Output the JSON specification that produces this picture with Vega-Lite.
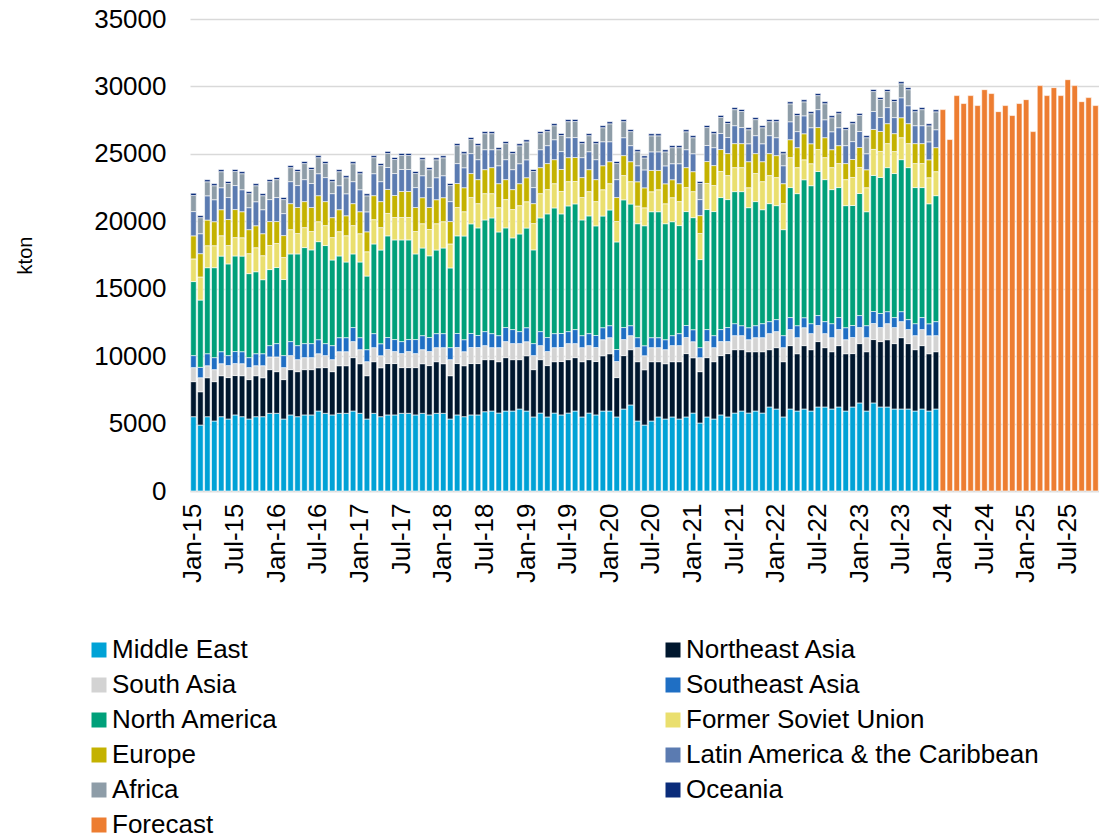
{
"$schema":"https://vega.github.io/schema/vega-lite/v6.json",
"width":909,"height":472,
"autosize":{"type":"none"},
"padding":{"left":190,"top":19,"right":0,"bottom":348},
"background":"white",
"config":{"font":"Liberation Sans","view":{"stroke":null},"axis":{"labelColor":"#000000","titleColor":"#000000"},"legend":{"labelColor":"#000000"}},
"data":{"values":[
{"m":"2015-01","ME":5510,"NEA":2600,"SA":1040,"SEA":890,"NA":5490,"FSU":1680,"EU":1710,"LA":1800,"AF":1190,"OC":170},
{"m":"2015-02","ME":4890,"NEA":2470,"SA":1040,"SEA":770,"NA":4990,"FSU":1710,"EU":1730,"LA":1480,"AF":1190,"OC":150},
{"m":"2015-03","ME":5510,"NEA":2890,"SA":890,"SEA":890,"NA":6380,"FSU":1630,"EU":1900,"LA":1800,"AF":1040,"OC":150},
{"m":"2015-04","ME":5190,"NEA":2920,"SA":890,"SEA":890,"NA":6670,"FSU":1630,"EU":1780,"LA":1630,"AF":1040,"OC":150},
{"m":"2015-05","ME":5510,"NEA":3040,"SA":890,"SEA":890,"NA":7090,"FSU":1510,"EU":1930,"LA":1630,"AF":1190,"OC":150},
{"m":"2015-06","ME":5340,"NEA":3070,"SA":890,"SEA":740,"NA":6800,"FSU":1360,"EU":1930,"LA":1630,"AF":1040,"OC":150},
{"m":"2015-07","ME":5640,"NEA":2920,"SA":890,"SEA":890,"NA":7090,"FSU":1360,"EU":2080,"LA":1780,"AF":1040,"OC":150},
{"m":"2015-08","ME":5510,"NEA":3040,"SA":890,"SEA":890,"NA":7090,"FSU":1360,"EU":1930,"LA":1630,"AF":1190,"OC":150},
{"m":"2015-09","ME":5340,"NEA":2920,"SA":890,"SEA":740,"NA":6230,"FSU":1480,"EU":1780,"LA":1630,"AF":1040,"OC":150},
{"m":"2015-10","ME":5510,"NEA":3040,"SA":740,"SEA":890,"NA":6080,"FSU":1780,"EU":1630,"LA":1780,"AF":1190,"OC":150},
{"m":"2015-11","ME":5510,"NEA":2890,"SA":890,"SEA":890,"NA":5490,"FSU":1780,"EU":1630,"LA":1780,"AF":1040,"OC":150},
{"m":"2015-12","ME":5760,"NEA":3240,"SA":940,"SEA":840,"NA":5640,"FSU":1780,"EU":1780,"LA":1630,"AF":1330,"OC":150},
{"m":"2016-01","ME":5760,"NEA":3090,"SA":1090,"SEA":990,"NA":5640,"FSU":1780,"EU":1630,"LA":1780,"AF":1330,"OC":150},
{"m":"2016-02","ME":5340,"NEA":2920,"SA":890,"SEA":890,"NA":5640,"FSU":1630,"EU":1630,"LA":1630,"AF":1040,"OC":150},
{"m":"2016-03","ME":5640,"NEA":3360,"SA":1040,"SEA":1040,"NA":6500,"FSU":1800,"EU":1930,"LA":1630,"AF":1040,"OC":150},
{"m":"2016-04","ME":5510,"NEA":3340,"SA":890,"SEA":1040,"NA":6800,"FSU":1510,"EU":1930,"LA":1630,"AF":1040,"OC":150},
{"m":"2016-05","ME":5640,"NEA":3360,"SA":890,"SEA":1040,"NA":7120,"FSU":1480,"EU":1930,"LA":1630,"AF":1190,"OC":150},
{"m":"2016-06","ME":5640,"NEA":3360,"SA":890,"SEA":1040,"NA":6950,"FSU":1360,"EU":1780,"LA":1780,"AF":1040,"OC":150},
{"m":"2016-07","ME":5930,"NEA":3210,"SA":1040,"SEA":1040,"NA":7270,"FSU":1480,"EU":1930,"LA":1630,"AF":1190,"OC":150},
{"m":"2016-08","ME":5760,"NEA":3390,"SA":890,"SEA":890,"NA":7270,"FSU":1480,"EU":1780,"LA":1780,"AF":1040,"OC":150},
{"m":"2016-09","ME":5640,"NEA":3210,"SA":890,"SEA":1040,"NA":6350,"FSU":1660,"EU":1480,"LA":1780,"AF":890,"OC":150},
{"m":"2016-10","ME":5760,"NEA":3530,"SA":1040,"SEA":1040,"NA":6060,"FSU":1800,"EU":1630,"LA":1780,"AF":1040,"OC":150},
{"m":"2016-11","ME":5760,"NEA":3530,"SA":1040,"SEA":1040,"NA":5610,"FSU":1950,"EU":1480,"LA":1630,"AF":1190,"OC":150},
{"m":"2016-12","ME":5930,"NEA":3960,"SA":1190,"SEA":1040,"NA":5460,"FSU":2100,"EU":1630,"LA":1630,"AF":1330,"OC":150},
{"m":"2017-01","ME":5760,"NEA":3680,"SA":1040,"SEA":890,"NA":5610,"FSU":2100,"EU":1630,"LA":1630,"AF":1190,"OC":150},
{"m":"2017-02","ME":5340,"NEA":3210,"SA":1040,"SEA":890,"NA":5460,"FSU":1800,"EU":1480,"LA":1480,"AF":1190,"OC":150},
{"m":"2017-03","ME":5760,"NEA":3830,"SA":1040,"SEA":1040,"NA":6650,"FSU":1800,"EU":1780,"LA":1630,"AF":1190,"OC":150},
{"m":"2017-04","ME":5510,"NEA":3630,"SA":890,"SEA":890,"NA":6950,"FSU":1660,"EU":1930,"LA":1480,"AF":1190,"OC":150},
{"m":"2017-05","ME":5640,"NEA":3810,"SA":1040,"SEA":890,"NA":7540,"FSU":1660,"EU":1780,"LA":1630,"AF":1040,"OC":150},
{"m":"2017-06","ME":5640,"NEA":3810,"SA":890,"SEA":890,"NA":7390,"FSU":1660,"EU":1630,"LA":1630,"AF":1040,"OC":150},
{"m":"2017-07","ME":5760,"NEA":3390,"SA":1040,"SEA":890,"NA":7540,"FSU":1660,"EU":1930,"LA":1630,"AF":1040,"OC":150},
{"m":"2017-08","ME":5760,"NEA":3390,"SA":1190,"SEA":890,"NA":7390,"FSU":1660,"EU":1930,"LA":1630,"AF":1040,"OC":150},
{"m":"2017-09","ME":5640,"NEA":3510,"SA":1040,"SEA":1040,"NA":6350,"FSU":1660,"EU":1780,"LA":1480,"AF":1040,"OC":150},
{"m":"2017-10","ME":5760,"NEA":3680,"SA":1040,"SEA":1040,"NA":6500,"FSU":1800,"EU":1930,"LA":1630,"AF":1190,"OC":150},
{"m":"2017-11","ME":5640,"NEA":3660,"SA":1040,"SEA":1040,"NA":6060,"FSU":1950,"EU":1630,"LA":1480,"AF":1330,"OC":150},
{"m":"2017-12","ME":5760,"NEA":3830,"SA":1040,"SEA":1040,"NA":6200,"FSU":1950,"EU":1780,"LA":1630,"AF":1330,"OC":150},
{"m":"2018-01","ME":5760,"NEA":3680,"SA":1190,"SEA":1040,"NA":6350,"FSU":1950,"EU":1780,"LA":1630,"AF":1330,"OC":150},
{"m":"2018-02","ME":5340,"NEA":3210,"SA":1190,"SEA":890,"NA":5910,"FSU":1780,"EU":1660,"LA":1480,"AF":1190,"OC":150},
{"m":"2018-03","ME":5640,"NEA":3810,"SA":1190,"SEA":1040,"NA":7240,"FSU":2100,"EU":1780,"LA":1480,"AF":1330,"OC":150},
{"m":"2018-04","ME":5510,"NEA":3780,"SA":1040,"SEA":890,"NA":7690,"FSU":1800,"EU":1780,"LA":1480,"AF":1040,"OC":150},
{"m":"2018-05","ME":5640,"NEA":3810,"SA":1190,"SEA":1040,"NA":8130,"FSU":1950,"EU":1780,"LA":1480,"AF":1040,"OC":150},
{"m":"2018-06","ME":5640,"NEA":3810,"SA":1190,"SEA":890,"NA":7980,"FSU":1800,"EU":1780,"LA":1480,"AF":1040,"OC":150},
{"m":"2018-07","ME":5880,"NEA":3860,"SA":1040,"SEA":1040,"NA":8280,"FSU":1950,"EU":1780,"LA":1480,"AF":1190,"OC":150},
{"m":"2018-08","ME":5930,"NEA":3810,"SA":890,"SEA":1040,"NA":8580,"FSU":1800,"EU":1930,"LA":1330,"AF":1190,"OC":150},
{"m":"2018-09","ME":5780,"NEA":3810,"SA":1040,"SEA":890,"NA":7690,"FSU":1800,"EU":1780,"LA":1330,"AF":1190,"OC":150},
{"m":"2018-10","ME":5930,"NEA":3960,"SA":1190,"SEA":1040,"NA":7390,"FSU":2100,"EU":1480,"LA":1480,"AF":1190,"OC":150},
{"m":"2018-11","ME":5930,"NEA":3810,"SA":1190,"SEA":1040,"NA":6800,"FSU":2100,"EU":1480,"LA":1480,"AF":1190,"OC":150},
{"m":"2018-12","ME":6080,"NEA":3660,"SA":1190,"SEA":890,"NA":7240,"FSU":2100,"EU":1630,"LA":1480,"AF":1330,"OC":150},
{"m":"2019-01","ME":5930,"NEA":4100,"SA":1040,"SEA":1040,"NA":7390,"FSU":1950,"EU":1780,"LA":1330,"AF":1330,"OC":150},
{"m":"2019-02","ME":5490,"NEA":3510,"SA":1040,"SEA":890,"NA":6950,"FSU":1950,"EU":1480,"LA":1190,"AF":1190,"OC":150},
{"m":"2019-03","ME":5780,"NEA":3960,"SA":1040,"SEA":1040,"NA":8430,"FSU":1800,"EU":1930,"LA":1330,"AF":1190,"OC":150},
{"m":"2019-04","ME":5490,"NEA":3810,"SA":1040,"SEA":1040,"NA":9170,"FSU":1800,"EU":1930,"LA":1330,"AF":1040,"OC":150},
{"m":"2019-05","ME":5780,"NEA":3810,"SA":1040,"SEA":1040,"NA":9320,"FSU":1800,"EU":1780,"LA":1480,"AF":1040,"OC":150},
{"m":"2019-06","ME":5640,"NEA":3960,"SA":1040,"SEA":1040,"NA":8870,"FSU":1660,"EU":1630,"LA":1330,"AF":1190,"OC":150},
{"m":"2019-07","ME":5780,"NEA":3960,"SA":1190,"SEA":890,"NA":9320,"FSU":1800,"EU":1780,"LA":1480,"AF":1190,"OC":150},
{"m":"2019-08","ME":5930,"NEA":3960,"SA":1040,"SEA":1040,"NA":9320,"FSU":1660,"EU":1780,"LA":1480,"AF":1190,"OC":150},
{"m":"2019-09","ME":5490,"NEA":4100,"SA":1040,"SEA":890,"NA":8580,"FSU":1660,"EU":1480,"LA":1480,"AF":1040,"OC":150},
{"m":"2019-10","ME":5780,"NEA":3960,"SA":1040,"SEA":890,"NA":8730,"FSU":1800,"EU":1630,"LA":1330,"AF":1190,"OC":150},
{"m":"2019-11","ME":5640,"NEA":3960,"SA":1040,"SEA":890,"NA":8130,"FSU":1800,"EU":1630,"LA":1480,"AF":1190,"OC":150},
{"m":"2019-12","ME":5930,"NEA":4100,"SA":1190,"SEA":890,"NA":8280,"FSU":1950,"EU":1780,"LA":1780,"AF":1040,"OC":150},
{"m":"2020-01","ME":5930,"NEA":4250,"SA":1190,"SEA":890,"NA":8580,"FSU":1950,"EU":1630,"LA":1480,"AF":1330,"OC":150},
{"m":"2020-02","ME":5490,"NEA":2920,"SA":1190,"SEA":890,"NA":7980,"FSU":1510,"EU":1780,"LA":1330,"AF":1190,"OC":150},
{"m":"2020-03","ME":6080,"NEA":3960,"SA":1190,"SEA":890,"NA":9470,"FSU":1800,"EU":1480,"LA":1330,"AF":1190,"OC":150},
{"m":"2020-04","ME":6380,"NEA":4100,"SA":1040,"SEA":740,"NA":9020,"FSU":1660,"EU":1480,"LA":1190,"AF":1040,"OC":150},
{"m":"2020-05","ME":5190,"NEA":4400,"SA":1040,"SEA":740,"NA":8450,"FSU":1310,"EU":1800,"LA":1190,"AF":1040,"OC":150},
{"m":"2020-06","ME":4890,"NEA":4100,"SA":1040,"SEA":740,"NA":8900,"FSU":1330,"EU":1480,"LA":1330,"AF":890,"OC":150},
{"m":"2020-07","ME":5190,"NEA":4400,"SA":1040,"SEA":740,"NA":9340,"FSU":1480,"EU":1580,"LA":1380,"AF":1190,"OC":150},
{"m":"2020-08","ME":5490,"NEA":4100,"SA":1040,"SEA":740,"NA":9340,"FSU":1630,"EU":1430,"LA":1380,"AF":1190,"OC":150},
{"m":"2020-09","ME":5340,"NEA":4100,"SA":1040,"SEA":740,"NA":8600,"FSU":1480,"EU":1480,"LA":1330,"AF":1040,"OC":150},
{"m":"2020-10","ME":5490,"NEA":4100,"SA":1190,"SEA":740,"NA":8450,"FSU":1780,"EU":1330,"LA":1190,"AF":1190,"OC":150},
{"m":"2020-11","ME":5340,"NEA":4250,"SA":1190,"SEA":890,"NA":8010,"FSU":1780,"EU":1330,"LA":1480,"AF":1190,"OC":150},
{"m":"2020-12","ME":5490,"NEA":4700,"SA":1190,"SEA":890,"NA":8450,"FSU":1780,"EU":1480,"LA":1330,"AF":1330,"OC":150},
{"m":"2021-01","ME":5780,"NEA":4100,"SA":1190,"SEA":890,"NA":8310,"FSU":1930,"EU":1480,"LA":1330,"AF":1190,"OC":150},
{"m":"2021-02","ME":5040,"NEA":3810,"SA":1040,"SEA":740,"NA":6530,"FSU":1930,"EU":1330,"LA":1190,"AF":1190,"OC":150},
{"m":"2021-03","ME":5490,"NEA":4400,"SA":1190,"SEA":890,"NA":8900,"FSU":1930,"EU":1630,"LA":1190,"AF":1330,"OC":150},
{"m":"2021-04","ME":5340,"NEA":4250,"SA":1040,"SEA":890,"NA":9200,"FSU":1930,"EU":1480,"LA":1330,"AF":1040,"OC":150},
{"m":"2021-05","ME":5640,"NEA":4400,"SA":1040,"SEA":890,"NA":9790,"FSU":1930,"EU":1630,"LA":1190,"AF":1190,"OC":150},
{"m":"2021-06","ME":5490,"NEA":4700,"SA":890,"SEA":1040,"NA":9490,"FSU":1780,"EU":1630,"LA":1190,"AF":1040,"OC":150},
{"m":"2021-07","ME":5780,"NEA":4700,"SA":1040,"SEA":890,"NA":9790,"FSU":1780,"EU":1780,"LA":1330,"AF":1190,"OC":150},
{"m":"2021-08","ME":5930,"NEA":4550,"SA":1040,"SEA":740,"NA":9940,"FSU":1780,"EU":1780,"LA":1190,"AF":1190,"OC":150},
{"m":"2021-09","ME":5780,"NEA":4550,"SA":890,"SEA":890,"NA":8900,"FSU":1480,"EU":1930,"LA":1330,"AF":1040,"OC":150},
{"m":"2021-10","ME":5930,"NEA":4400,"SA":1040,"SEA":890,"NA":9200,"FSU":2080,"EU":1480,"LA":1330,"AF":1190,"OC":150},
{"m":"2021-11","ME":5780,"NEA":4550,"SA":1040,"SEA":1040,"NA":8450,"FSU":2080,"EU":1480,"LA":1330,"AF":1190,"OC":150},
{"m":"2021-12","ME":6230,"NEA":4250,"SA":1190,"SEA":890,"NA":8750,"FSU":2080,"EU":1630,"LA":1330,"AF":1040,"OC":150},
{"m":"2022-01","ME":6080,"NEA":4550,"SA":1190,"SEA":890,"NA":8450,"FSU":2080,"EU":1630,"LA":1330,"AF":1190,"OC":150},
{"m":"2022-02","ME":5490,"NEA":4100,"SA":1040,"SEA":890,"NA":7860,"FSU":1930,"EU":1480,"LA":1330,"AF":890,"OC":150},
{"m":"2022-03","ME":6080,"NEA":4700,"SA":1190,"SEA":890,"NA":9640,"FSU":2220,"EU":1330,"LA":1330,"AF":1330,"OC":150},
{"m":"2022-04","ME":5930,"NEA":4250,"SA":1190,"SEA":890,"NA":9790,"FSU":1930,"EU":1480,"LA":1190,"AF":1190,"OC":150},
{"m":"2022-05","ME":6080,"NEA":4700,"SA":1330,"SEA":740,"NA":10230,"FSU":1480,"EU":1930,"LA":1330,"AF":1040,"OC":150},
{"m":"2022-06","ME":5930,"NEA":4550,"SA":1190,"SEA":740,"NA":10230,"FSU":1630,"EU":1480,"LA":1190,"AF":1040,"OC":150},
{"m":"2022-07","ME":6230,"NEA":4850,"SA":1190,"SEA":740,"NA":10680,"FSU":1630,"EU":1630,"LA":1330,"AF":1040,"OC":150},
{"m":"2022-08","ME":6230,"NEA":4400,"SA":1040,"SEA":890,"NA":10530,"FSU":1630,"EU":1480,"LA":1330,"AF":1190,"OC":150},
{"m":"2022-09","ME":6080,"NEA":4250,"SA":1040,"SEA":1040,"NA":9940,"FSU":1630,"EU":1330,"LA":1330,"AF":1040,"OC":150},
{"m":"2022-10","ME":6230,"NEA":4550,"SA":1190,"SEA":890,"NA":9640,"FSU":1780,"EU":1330,"LA":1330,"AF":1040,"OC":150},
{"m":"2022-11","ME":5930,"NEA":4250,"SA":1040,"SEA":890,"NA":9050,"FSU":1930,"EU":1190,"LA":1330,"AF":1190,"OC":150},
{"m":"2022-12","ME":6230,"NEA":3960,"SA":1190,"SEA":890,"NA":8900,"FSU":2080,"EU":1330,"LA":1330,"AF":1330,"OC":150},
{"m":"2023-01","ME":6530,"NEA":4400,"SA":1190,"SEA":890,"NA":9050,"FSU":1930,"EU":1480,"LA":1190,"AF":1190,"OC":150},
{"m":"2023-02","ME":5930,"NEA":4400,"SA":1040,"SEA":890,"NA":8450,"FSU":1780,"EU":1330,"LA":1190,"AF":1190,"OC":150},
{"m":"2023-03","ME":6530,"NEA":4700,"SA":1190,"SEA":890,"NA":10090,"FSU":1930,"EU":1480,"LA":1330,"AF":1480,"OC":150},
{"m":"2023-04","ME":6230,"NEA":4850,"SA":1040,"SEA":1040,"NA":10090,"FSU":1930,"EU":1480,"LA":1040,"AF":1330,"OC":150},
{"m":"2023-05","ME":6230,"NEA":4990,"SA":1190,"SEA":890,"NA":10680,"FSU":1780,"EU":1480,"LA":1190,"AF":1190,"OC":150},
{"m":"2023-06","ME":6080,"NEA":4850,"SA":1190,"SEA":740,"NA":10680,"FSU":1630,"EU":1330,"LA":1190,"AF":1190,"OC":150},
{"m":"2023-07","ME":6080,"NEA":5290,"SA":1190,"SEA":740,"NA":11270,"FSU":1630,"EU":1480,"LA":1480,"AF":1040,"OC":150},
{"m":"2023-08","ME":6080,"NEA":4850,"SA":1040,"SEA":740,"NA":11270,"FSU":1780,"EU":1480,"LA":1330,"AF":1190,"OC":150},
{"m":"2023-09","ME":5930,"NEA":4550,"SA":1040,"SEA":890,"NA":10090,"FSU":1780,"EU":1480,"LA":1330,"AF":1040,"OC":150},
{"m":"2023-10","ME":6080,"NEA":4700,"SA":1190,"SEA":890,"NA":9640,"FSU":1780,"EU":1480,"LA":1330,"AF":1190,"OC":150},
{"m":"2023-11","ME":5930,"NEA":4250,"SA":1330,"SEA":890,"NA":8900,"FSU":1930,"EU":1330,"LA":1330,"AF":1190,"OC":150},
{"m":"2023-12","ME":6080,"NEA":4250,"SA":1190,"SEA":1040,"NA":9340,"FSU":1780,"EU":1780,"LA":1330,"AF":1330,"OC":150},
{"m":"2024-01","FC":28280},{"m":"2024-02","FC":26060},{"m":"2024-03","FC":29320},{"m":"2024-04","FC":28730},
{"m":"2024-05","FC":29320},{"m":"2024-06","FC":28580},{"m":"2024-07","FC":29760},{"m":"2024-08","FC":29470},
{"m":"2024-09","FC":28130},{"m":"2024-10","FC":28580},{"m":"2024-11","FC":27840},{"m":"2024-12","FC":28730},
{"m":"2025-01","FC":29020},{"m":"2025-02","FC":26650},{"m":"2025-03","FC":30060},{"m":"2025-04","FC":29320},
{"m":"2025-05","FC":29910},{"m":"2025-06","FC":29320},{"m":"2025-07","FC":30500},{"m":"2025-08","FC":30060},
{"m":"2025-09","FC":28870},{"m":"2025-10","FC":29170},{"m":"2025-11","FC":28580}
]},
"transform":[
{"fold":["ME","NEA","SA","SEA","NA","FSU","EU","LA","AF","OC","FC"],"as":["region","v"]},
{"filter":"isValid(datum.v)"},
{"lookup":"region","from":{"data":{"values":[
{"region":"ME","o":0,"name":"Middle East"},
{"region":"NEA","o":1,"name":"Northeast Asia"},
{"region":"SA","o":2,"name":"South Asia"},
{"region":"SEA","o":3,"name":"Southeast Asia"},
{"region":"NA","o":4,"name":"North America"},
{"region":"FSU","o":5,"name":"Former Soviet Union"},
{"region":"EU","o":6,"name":"Europe"},
{"region":"LA","o":7,"name":"Latin America & the Caribbean"},
{"region":"AF","o":8,"name":"Africa"},
{"region":"OC","o":9,"name":"Oceania"},
{"region":"FC","o":10,"name":"Forecast"}]},"key":"region","fields":["o","name"]}}
],
"mark":{"type":"bar","stroke":"white","strokeWidth":0.6},
"encoding":{
"x":{"field":"m","type":"ordinal","scale":{"paddingInner":0.2,"paddingOuter":0.1},
"axis":{"title":null,"values":["2015-01","2015-07","2016-01","2016-07","2017-01","2017-07","2018-01","2018-07","2019-01","2019-07","2020-01","2020-07","2021-01","2021-07","2022-01","2022-07","2023-01","2023-07","2024-01","2024-07","2025-01","2025-07"],
"labelExpr":"(slice(datum.value,5,7)=='01' ? 'Jan-' : 'Jul-') + slice(datum.value,2,4)",
"labelAngle":-90,"labelFontSize":26,"labelPadding":12,"ticks":false,"grid":false,"domainColor":"#D9D9D9","domainWidth":1.5,"labelOverlap":false}},
"y":{"field":"v","type":"quantitative","stack":"zero","scale":{"domain":[0,35000],"nice":false},
"axis":{"title":"kton","values":[0,5000,10000,15000,20000,25000,30000,35000],"format":"d","grid":true,"gridColor":"#D9D9D9","gridWidth":1.5,"domain":false,"ticks":false,"labelFontSize":26,"labelPadding":24,"titleFontSize":20,"titleFontWeight":"normal","titleAngle":-90,"titleX":-165,"titleY":236,"titleAlign":"center","titleBaseline":"middle"}},
"order":{"field":"o","type":"quantitative","sort":"ascending"},
"color":{"field":"name","type":"nominal","sort":["Middle East","Northeast Asia","South Asia","Southeast Asia","North America","Former Soviet Union","Europe","Latin America & the Caribbean","Africa","Oceania","Forecast"],
"scale":{"domain":["Middle East","Northeast Asia","South Asia","Southeast Asia","North America","Former Soviet Union","Europe","Latin America & the Caribbean","Africa","Oceania","Forecast"],"range":["#00A2D6","#00172E","#D3D3D3","#1F6FC4","#00A07A","#EADF6E","#C4B200","#5B7BB1","#8E9DA8","#0A2C7A","#ED7D31"]},
"legend":{"title":null,"orient":"none","legendX":-104,"legendY":618,"columns":2,"direction":"horizontal","columnPadding":381,"rowPadding":9,"symbolType":"square","symbolSize":225,"symbolStrokeWidth":0,"labelFontSize":26,"labelLimit":700,"labelOffset":0,"padding":0}}
}
}
